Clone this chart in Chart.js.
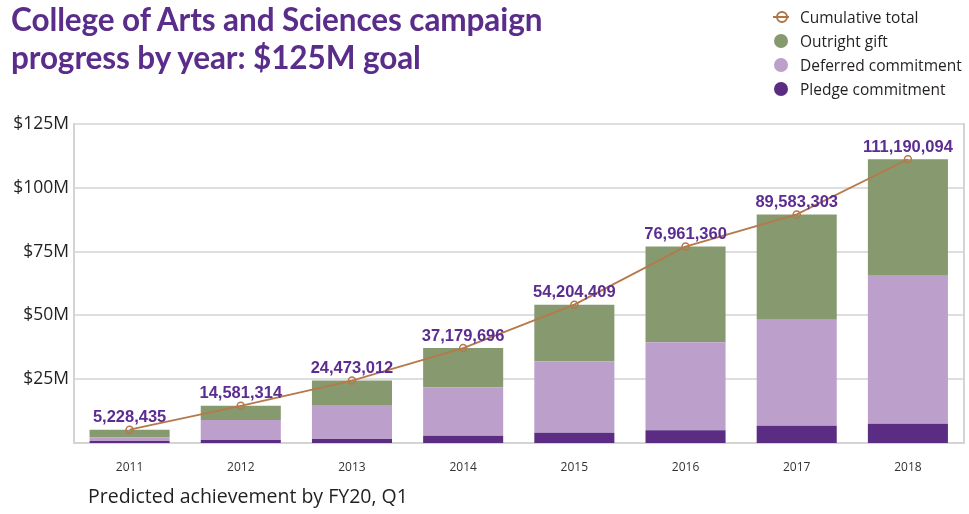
<!DOCTYPE html>
<html>
<head>
<meta charset="utf-8">
<script src="https://cdn.jsdelivr.net/npm/chart.js@4/dist/chart.umd.min.js"></script>
<style>
  body { margin: 0; background: #fff; }
  #wrap { position: relative; width: 969px; height: 514px; overflow: hidden; }
  #chart { position: absolute; left: 0; top: 0; }
  .title { position: absolute; left: 11px; top: 0px; font-family: Lato, "Open Sans", sans-serif; font-weight: 700;
           font-size: 31.5px; line-height: 38px; color: #5b2d8a; letter-spacing: -0.1px; }
  .legend { position: absolute; left: 772px; top: 5px; font-family: "Open Sans", Lato, sans-serif; font-size: 15.5px; color: #231f20; }
  .legend div { height: 24px; line-height: 24px; position: relative; padding-left: 28px; }
  .dot { position: absolute; left: 2px; top: 5px; width: 14px; height: 14px; border-radius: 50%; }
  .lineKey { position: absolute; left: 1px; top: 11px; width: 16px; height: 2px; background: #b07545; }
  .ring { position: absolute; left: 4px; top: 6px; width: 8px; height: 8px; border: 2px solid #b07545; border-radius: 50%; }
  .caption { position: absolute; left: 88px; top: 482px; font-family: "Open Sans", Lato, sans-serif; font-size: 19.5px; color: #231f20; }
</style>
</head>
<body>
<div id="wrap">
  <canvas id="chart" width="969" height="514"></canvas>
  <div class="title">College of Arts and Sciences campaign<br>progress by year: $125M goal</div>
  <div class="legend">
    <div><span class="lineKey"></span><span class="ring"></span>Cumulative total</div>
    <div><span class="dot" style="background:#86996f"></span>Outright gift</div>
    <div><span class="dot" style="background:#bd9fcb"></span>Deferred commitment</div>
    <div><span class="dot" style="background:#5b2d82"></span>Pledge commitment</div>
  </div>
  <div class="caption">Predicted achievement by FY20, Q1</div>
</div>
<script>
// values in $M
const years = ['2011', '2012', '2013', '2014', '2015', '2016', '2017', '2018'];
const pledge = [0.8, 1.2, 1.6, 2.8, 4.0, 5.0, 6.8, 7.5];
const deferred = [1.5, 7.8, 13.0, 19.0, 28.0, 34.5, 41.5, 58.0];
const outright = [2.93, 5.58, 9.87, 15.38, 22.2, 37.46, 41.28, 45.69];
const cumulative = [5228435, 14581314, 24473012, 37179696, 54204409, 76961360, 89583303, 111190094];
const yTicks = [25, 50, 75, 100, 125];

const totalLabels = {
  id: 'totalLabels',
  afterDatasetsDraw(chart) {
    const ctx = chart.ctx;
    const meta = chart.getDatasetMeta(0);
    ctx.save();
    ctx.font = 'bold 16.5px "Liberation Sans", Arial, sans-serif';
    ctx.fillStyle = '#5c2d91';
    ctx.textAlign = 'center';
    ctx.textBaseline = 'middle';
    meta.data.forEach((pt, i) => {
      ctx.fillText(cumulative[i].toLocaleString('en-US'), pt.x, pt.y - 12);
    });
    ctx.restore();
  }
};

new Chart(document.getElementById('chart'), {
  data: {
    labels: years,
    datasets: [
      {
        type: 'line',
        label: 'Cumulative total',
        data: cumulative.map(v => v / 1e6),
        borderColor: '#b5794a',
        borderWidth: 1.8,
        pointRadius: 3.5,
        pointBorderWidth: 1.5,
        pointBackgroundColor: 'rgba(0,0,0,0)',
        pointBorderColor: '#b5794a',
        tension: 0,
        order: 0
      },
      { type: 'bar', label: 'Pledge commitment', data: pledge, backgroundColor: '#5b2d82', stack: 's', order: 1 },
      { type: 'bar', label: 'Deferred commitment', data: deferred, backgroundColor: '#bd9fcb', stack: 's', order: 1 },
      { type: 'bar', label: 'Outright gift', data: outright, backgroundColor: '#86996f', stack: 's', order: 1 }
    ]
  },
  options: {
    responsive: false,
    animation: false,
    layout: { padding: { top: 124, right: 5, bottom: 0, left: 0 } },
    plugins: { legend: { display: false }, tooltip: { enabled: false } },
    datasets: { bar: { categoryPercentage: 0.72, barPercentage: 1 } },
    scales: {
      x: {
        stacked: true,
        afterFit: s => { s.height = 71; },
        grid: { display: false },
        border: { color: '#d4d4d4', width: 2 },
        ticks: { color: '#333', font: { size: 12, family: 'Open Sans' }, padding: 9 }
      },
      y: {
        stacked: true,
        min: 0,
        max: 125,
        afterFit: s => { s.width = 74; },
        afterBuildTicks: s => { s.ticks = yTicks.map(v => ({ value: v })); },
        grid: { color: '#dedede', lineWidth: 2, drawTicks: false },
        border: { color: '#d4d4d4', width: 2 },
        ticks: { color: '#231f20', font: { size: 17.5, family: 'Open Sans' }, padding: 5,
                 callback: v => '$' + v + 'M' }
      },
      y2: {
        position: 'right', min: 0, max: 125, display: true,
        afterFit: s => { s.width = 0; },
        grid: { display: false }, ticks: { display: false },
        border: { color: '#d4d4d4', width: 2 }
      }
    }
  },
  plugins: [totalLabels]
});
</script>
</body>
</html>
